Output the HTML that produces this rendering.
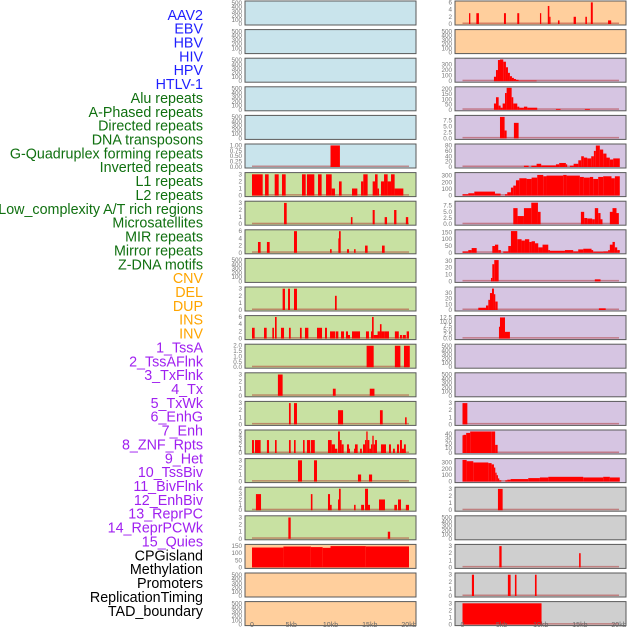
<!DOCTYPE html>
<html><head><meta charset="utf-8"><style>
html,body{margin:0;padding:0;background:#fff;}
svg{display:block;font-family:"Liberation Sans",sans-serif;}
</style></head><body>
<svg id="chart" width="630" height="630" viewBox="0 0 630 630" xmlns="http://www.w3.org/2000/svg">
<g id="labels"></g>
<g id="panels"></g>
<g id="xaxes"></g>
</svg>
<script>
const trackNames = ["AAV2","EBV","HBV","HIV","HPV","HTLV-1","Alu repeats","A-Phased repeats","Directed repeats","DNA transposons","G-Quadruplex forming repeats","Inverted repeats","L1 repeats","L2 repeats","Low_complexity A/T rich regions","Microsatellites","MIR repeats","Mirror repeats","Z-DNA motifs","CNV","DEL","DUP","INS","INV","1_TssA","2_TssAFlnk","3_TxFlnk","4_Tx","5_TxWk","6_EnhG","7_Enh","8_ZNF_Rpts","9_Het","10_TssBiv","11_BivFlnk","12_EnhBiv","13_ReprPC","14_ReprPCWk","15_Quies","CPGisland","Methylation","Promoters","ReplicationTiming","TAD_boundary"];
const trackGroups = [0,0,0,0,0,0,1,1,1,1,1,1,1,1,1,1,1,1,1,2,2,2,2,2,3,3,3,3,3,3,3,3,3,3,3,3,3,3,3,4,4,4,4,4];
const xTickValues = [0,5,10,15,20];
const xTickLabels = ["0","5kb","10kb","15kb","20kb"];

// segments: [startKb, endKb, value]
const leftGQuad = [[10.0,11.2,1]];
const leftL1 = [[0,1.36,3],[1.66,2.12,3],[2.89,3.4,3],[3.82,4.29,3],[6.37,6.84,3],[7.0,7.94,3],[8.41,8.87,3],[9.43,10.15,3],[10.15,10.57,1],[11.08,11.42,2],[12.74,13.42,1],[13.89,14.18,2],[14.18,14.73,3],[15.37,15.67,2],[15.67,16.0,3],[16.0,16.18,1],[16.43,16.82,2],[16.82,17.28,3],[17.28,17.71,2],[17.71,18.17,3],[18.17,19.28,1]];
const leftLowComp = [[4.08,4.42,3],[12.6,12.8,1],[15.37,15.63,2],[16.9,17.2,1],[18.1,18.4,2],[19.6,19.9,1]];
const leftMIR = [[0.76,1.1,3],[1.9,2.25,3],[5.35,5.73,6],[9.94,10.15,1],[11.0,11.17,4],[11.08,11.3,6],[12.1,12.36,1],[13.0,13.2,1],[14.4,14.73,2],[16.56,16.9,2]];
const leftDEL = [[3.9,4.2,3],[4.59,4.84,3],[5.35,5.73,3],[10.57,10.79,2]];
const leftINS = [[0,0.34,3],[1.53,1.87,3],[2.59,2.8,3],[2.93,3.14,6],[3.69,4.08,3],[4.71,4.93,3],[6.11,6.33,3],[6.75,7.18,3],[8.28,8.92,3],[9.3,9.55,3],[9.94,10.62,2],[10.7,11.0,2],[11.34,11.72,2],[11.97,12.23,2],[12.23,12.48,1],[12.74,13.76,2],[14.52,14.9,2],[15.16,15.37,2],[15.29,15.5,6],[15.5,16.1,1],[16.0,16.3,2],[16.3,16.5,4],[16.5,16.86,2],[16.86,17.45,2],[18.2,18.7,2],[18.85,19.1,1],[19.2,19.6,1],[19.7,20.0,2]];
const leftTssA = [[14.6,15.5,2],[18.2,18.9,2],[19.36,20.1,2]];
const leftTxFlnk = [[3.3,3.9,3],[10.3,10.66,1],[15.0,15.6,1]];
const leftTxWk = [[4.71,4.93,3],[5.35,5.73,3],[10.96,11.6,2],[16.3,16.65,2],[19.5,19.7,1]];
const leftEnh = [[0,0.25,3],[0.38,1.1,3],[1.9,2.17,3],[2.93,3.14,3],[4.71,4.93,3],[5.35,5.56,3],[6.5,6.7,3],[7.0,7.4,3],[7.5,8.0,3],[9.68,10.15,3],[10.15,10.57,2],[10.57,10.87,1],[10.96,11.2,5],[11.2,11.42,3],[11.42,11.68,2],[12.1,12.36,2],[12.36,12.48,1],[13.0,13.25,1],[13.12,13.46,2],[13.76,14.0,1],[14.14,14.4,2],[14.4,14.56,3],[14.56,14.73,5],[14.73,14.95,3],[14.95,15.16,1],[15.16,15.33,2],[15.33,15.5,4],[15.5,15.67,2],[15.67,15.92,3],[16.43,17.07,2],[17.45,17.7,2],[17.96,18.2,1],[18.47,18.73,2],[18.85,19.1,3],[19.1,19.36,1],[19.36,19.6,2]];
const leftHet = [[5.86,6.37,3],[7.9,8.28,3],[13.5,13.9,1],[14.9,15.3,1]];
const leftBivFlnk = [[0.5,1.15,3],[7.5,7.7,3],[9.68,9.94,3],[9.94,10.15,1],[10.96,11.13,2],[11.08,11.3,4],[13.0,13.2,1],[13.9,14.27,1],[14.4,14.78,4],[14.78,15.03,1],[16.18,16.56,2],[16.56,16.94,2],[18.13,18.47,1],[18.6,18.98,2],[19.6,20.0,1]];
const leftReprPC = [[4.63,4.93,3],[17.3,17.6,1]];
const leftCPG = [[0,4,140],[4,7.5,147],[7.5,9,143],[9,10,138],[10,14.5,150],[14.5,20,148]];

const rightEBV = [[0.83,1.0,3],[1.77,2.1,3],[5.3,5.55,3],[7.0,7.25,3],[9.9,10.06,3],[10.9,11.1,5],[11.1,11.25,2],[12.2,12.4,1],[14.2,14.5,2],[15.7,15.9,2],[16.4,16.65,6],[18.6,19.0,1]];
const rightHIV = [[4.02,4.28,80],[4.28,4.53,200],[4.53,4.79,380],[4.79,5.21,390],[5.21,5.55,350],[5.55,5.81,250],[5.81,6.06,150],[6.06,6.32,90],[6.32,6.57,60],[6.57,6.83,40],[6.83,7.17,25],[7.17,9.47,10]];
const rightHTLV = [[4.02,4.28,60],[4.28,4.62,120],[4.62,4.87,40],[4.87,5.13,20],[5.13,5.43,60],[5.43,5.64,160],[5.64,6.28,210],[6.28,6.49,120],[6.49,7.0,60],[7.0,7.26,30],[7.26,7.85,20],[7.85,8.28,30],[8.28,9.55,20],[11.94,12.53,8],[15.64,16.28,8]];
const rightAPhased = [[4.79,5.38,9],[5.38,5.64,3.3],[6.57,7.17,6.5]];
const rightDNAtrans = [[7.85,8.45,5],[8.8,9.47,5],[9.47,10.06,12],[10.06,11.94,6],[11.94,12.36,10],[12.36,13.21,15],[13.21,13.38,10],[13.72,14.2,5],[14.2,14.8,12],[14.8,15.17,25],[15.17,15.51,40],[15.51,15.94,35],[15.94,16.45,32],[16.45,16.79,40],[16.79,17.04,60],[17.04,17.55,80],[17.55,17.98,65],[17.98,18.4,50],[18.4,18.83,35],[18.83,19.26,28],[19.26,20.1,32]];
const rightL2 = [[0,0.74,20],[0.74,1.51,35],[1.51,4.15,60],[4.15,4.87,30],[5.43,5.72,20],[5.72,6.19,50],[6.19,6.49,120],[6.49,6.83,150],[6.83,7.26,230],[7.26,8.19,260],[8.19,8.83,250],[8.83,9.55,270],[9.55,10.32,310],[10.32,10.74,290],[10.74,12.87,300],[12.87,13.3,310],[13.3,15.0,300],[15.0,15.51,280],[15.51,16.28,270],[16.28,16.7,280],[16.7,17.34,250],[17.34,17.98,280],[17.98,19.04,290],[19.04,19.47,260],[19.47,20.1,290]];
const rightMicrosat = [[6.49,7.04,6.5],[7.04,7.85,3.3],[7.85,8.79,6.5],[8.79,9.64,8.7],[9.64,9.98,5],[15.13,15.55,5],[15.55,15.94,2.5],[15.94,16.57,2.3],[16.57,16.91,2],[16.91,17.34,6.5],[17.34,17.64,4.5],[17.64,17.89,2],[18.83,19.17,5],[19.17,19.68,6.5],[19.68,19.98,4.5]];
const rightMirror = [[0,0.74,10],[0.74,1.17,20],[1.17,1.81,35],[3.81,4.15,50],[4.15,4.57,60],[4.57,4.91,20],[5.21,5.85,10],[5.85,6.19,50],[6.19,7.0,160],[7.0,7.55,100],[7.55,7.98,90],[7.98,8.53,100],[8.53,8.83,80],[8.83,9.26,85],[9.26,9.68,70],[9.68,10.23,40],[10.23,10.96,60],[10.96,11.17,20],[11.17,13.09,15],[13.09,14.15,20],[14.15,14.79,10],[14.79,15.43,25],[15.43,16.49,30],[16.49,16.7,20],[16.7,17.98,8],[17.98,18.62,10],[18.62,18.83,20],[18.83,19.17,60],[19.17,19.47,80],[19.47,19.77,40],[19.77,20.1,20]];
const rightCNV = [[3.64,3.81,5],[3.81,4.06,25],[4.06,4.62,31],[16.91,17.64,3]];
const rightDUP = [[2.02,3.0,4],[3.0,3.3,8],[3.3,3.51,18],[3.51,3.77,30],[3.77,4.02,38],[4.02,4.19,28],[4.19,4.49,15],[17.43,18.3,3]];
const rightINV = [[4.66,4.79,7],[4.79,5.43,12.5],[5.43,6.06,4]];
const rightTxWk = [[0,0.62,3]];
const rightZNF = [[0,0.13,37],[0.13,0.47,38],[0.47,0.98,42],[0.98,3.74,45],[3.74,4.17,45],[4.17,4.49,17]];
const rightTssBiv = [[0,0.53,340],[0.53,1.38,320],[1.38,3.3,300],[3.3,3.72,290],[3.72,4.02,270],[4.02,4.19,220],[4.19,4.36,140],[4.36,4.53,100],[4.53,4.7,50],[4.7,4.96,20],[5.47,5.72,20],[5.72,6.15,30],[6.15,8.4,40],[8.4,9.89,55],[9.89,10.96,65],[10.96,15.43,75],[15.43,17.98,65],[17.98,18.83,75],[18.83,20.1,65]];
const rightEnhBiv = [[4.53,5.13,3]];
const rightMethyl = [[4.7,5.0,3],[14.9,15.1,2]];
const rightReplTiming = [[1.2,1.47,3],[5.8,6.15,3],[6.7,6.9,3],[9.26,9.47,3]];
const rightTAD = [[0,10.1,3]];

const T500 = [0,100,200,300,400,500];
const T3 = [0,1,2,3];
const T6 = [0,2,4,6];

const rows = [
 {L:{bg:'blue',ymax:520,ticks:T500},R:{bg:'orange',ymax:6.1,ticks:T6,data:rightEBV}},
 {L:{bg:'blue',ymax:520,ticks:T500},R:{bg:'orange',ymax:520,ticks:T500}},
 {L:{bg:'blue',ymax:520,ticks:T500},R:{bg:'purple',ymax:395,ticks:[0,100,200,300],data:rightHIV}},
 {L:{bg:'blue',ymax:520,ticks:T500},R:{bg:'purple',ymax:210,ticks:[0,50,100,150,200],data:rightHTLV}},
 {L:{bg:'blue',ymax:520,ticks:T500},R:{bg:'purple',ymax:9.2,ticks:[0,2.5,5,7.5],fmt:1,data:rightAPhased}},
 {L:{bg:'blue',ymax:1.02,ticks:[0,0.25,0.5,0.75,1],fmt:2,data:leftGQuad},R:{bg:'purple',ymax:82,ticks:[0,20,40,60,80],data:rightDNAtrans}},
 {L:{bg:'green',ymax:3.1,ticks:T3,data:leftL1},R:{bg:'purple',ymax:330,ticks:[0,100,200,300],data:rightL2}},
 {L:{bg:'green',ymax:3.1,ticks:T3,data:leftLowComp},R:{bg:'purple',ymax:8.9,ticks:[0,2.5,5,7.5],fmt:1,data:rightMicrosat}},
 {L:{bg:'green',ymax:6.1,ticks:T6,data:leftMIR},R:{bg:'purple',ymax:162,ticks:[0,50,100,150],data:rightMirror}},
 {L:{bg:'green',ymax:520,ticks:T500},R:{bg:'purple',ymax:32,ticks:[0,10,20,30],data:rightCNV}},
 {L:{bg:'green',ymax:3.1,ticks:T3,data:leftDEL},R:{bg:'purple',ymax:39,ticks:[0,10,20,30],data:rightDUP}},
 {L:{bg:'green',ymax:6.1,ticks:T6,data:leftINS},R:{bg:'purple',ymax:13,ticks:[0,2.5,5,7.5,10,12.5],fmt:1,data:rightINV}},
 {L:{bg:'green',ymax:2.05,ticks:[0,0.5,1,1.5,2],fmt:1,data:leftTssA},R:{bg:'purple',ymax:520,ticks:T500}},
 {L:{bg:'green',ymax:3.1,ticks:T3,data:leftTxFlnk},R:{bg:'purple',ymax:520,ticks:T500}},
 {L:{bg:'green',ymax:3.1,ticks:T3,data:leftTxWk},R:{bg:'purple',ymax:3.1,ticks:T3,data:rightTxWk}},
 {L:{bg:'green',ymax:5.1,ticks:[0,1,2,3,4,5],data:leftEnh},R:{bg:'purple',ymax:46,ticks:[0,10,20,30,40],data:rightZNF}},
 {L:{bg:'green',ymax:3.1,ticks:T3,data:leftHet},R:{bg:'purple',ymax:345,ticks:[0,100,200,300],data:rightTssBiv}},
 {L:{bg:'green',ymax:4.1,ticks:[0,1,2,3,4],data:leftBivFlnk},R:{bg:'grey',ymax:3.1,ticks:T3,data:rightEnhBiv}},
 {L:{bg:'green',ymax:3.1,ticks:T3,data:leftReprPC},R:{bg:'grey',ymax:520,ticks:T500}},
 {L:{bg:'orange',ymax:155,ticks:[0,50,100,150],data:leftCPG},R:{bg:'grey',ymax:3.1,ticks:T3,data:rightMethyl}},
 {L:{bg:'orange',ymax:520,ticks:T500},R:{bg:'grey',ymax:3.1,ticks:T3,data:rightReplTiming}},
 {L:{bg:'orange',ymax:520,ticks:T500},R:{bg:'grey',ymax:3.1,ticks:T3,data:rightTAD}}
];

const NS='http://www.w3.org/2000/svg';
const groupColors=['#1f1fff','#107010','#ffa500','#a020f0','#000000'];
const bgColors={blue:'#c9e4ec',orange:'#ffcf9d',purple:'#d6c5e2',green:'#c8e1a2',grey:'#cfcfcf'};
const cols={L:{x:245,w:171,x0:252,x20:409},R:{x:455,w:171,x0:462.5,x20:619}};
function mk(tag,attrs,parent){const e=document.createElementNS(NS,tag);for(const k in attrs)e.setAttribute(k,attrs[k]);parent.appendChild(e);return e;}

const labG=document.getElementById('labels');
trackNames.forEach((n,i)=>{
  const t=mk('text',{x:203,y:16+i*13.86,'text-anchor':'end','dominant-baseline':'middle','font-size':'14.3',fill:groupColors[trackGroups[i]]},labG);
  
  
  t.textContent=n;
});

const pG=document.getElementById('panels');
rows.forEach((row,i)=>{
  const top=1+28.6*i, h=24;
  ['L','R'].forEach(side=>{
    const p=row[side], c=cols[side];
    const name=trackNames[2*i+(side==='L'?0:1)].toLowerCase().replace(/[^a-z0-9]+/g,'-');
    const g=mk('g',{},pG);
    
    
    mk('rect',{x:c.x,y:top,width:c.w,height:h,fill:bgColors[p.bg],stroke:'#5a5a5a','stroke-width':1},g);
    const xs=kb=>c.x0+(c.x20-c.x0)*kb/20;
    const ys=v=>top+h-1-(h-2)*v/p.ymax;
    p.ticks.forEach(tv=>{
      const t=mk('text',{x:c.x-3,y:ys(tv)+2,'text-anchor':'end','font-size':'6.3',fill:'#777'},g);
      
      
      t.textContent=p.fmt?tv.toFixed(p.fmt):String(tv);
    });
    if(p.data){
      mk('rect',{x:xs(0),y:top+h-2.5,width:xs(20)-xs(0),height:1.5,fill:'rgba(170,30,30,0.45)'},g);
      p.data.forEach(s=>{
        const r=mk('rect',{x:xs(s[0]),y:ys(s[2]),width:Math.max(0.8,xs(s[1])-xs(s[0])),height:ys(0)-ys(s[2]),fill:'#ff0000'},g);
        
        
      });
    }
  });
});

const xG=document.getElementById('xaxes');
['L','R'].forEach(side=>{
  const c=cols[side];
  xTickValues.forEach((v,j)=>{
    const t=mk('text',{x:c.x0+(c.x20-c.x0)*v/20,y:627,'text-anchor':'middle','font-size':'7',fill:'#666'},xG);
    
    
    t.textContent=xTickLabels[j];
  });
});
</script>
</body></html>
